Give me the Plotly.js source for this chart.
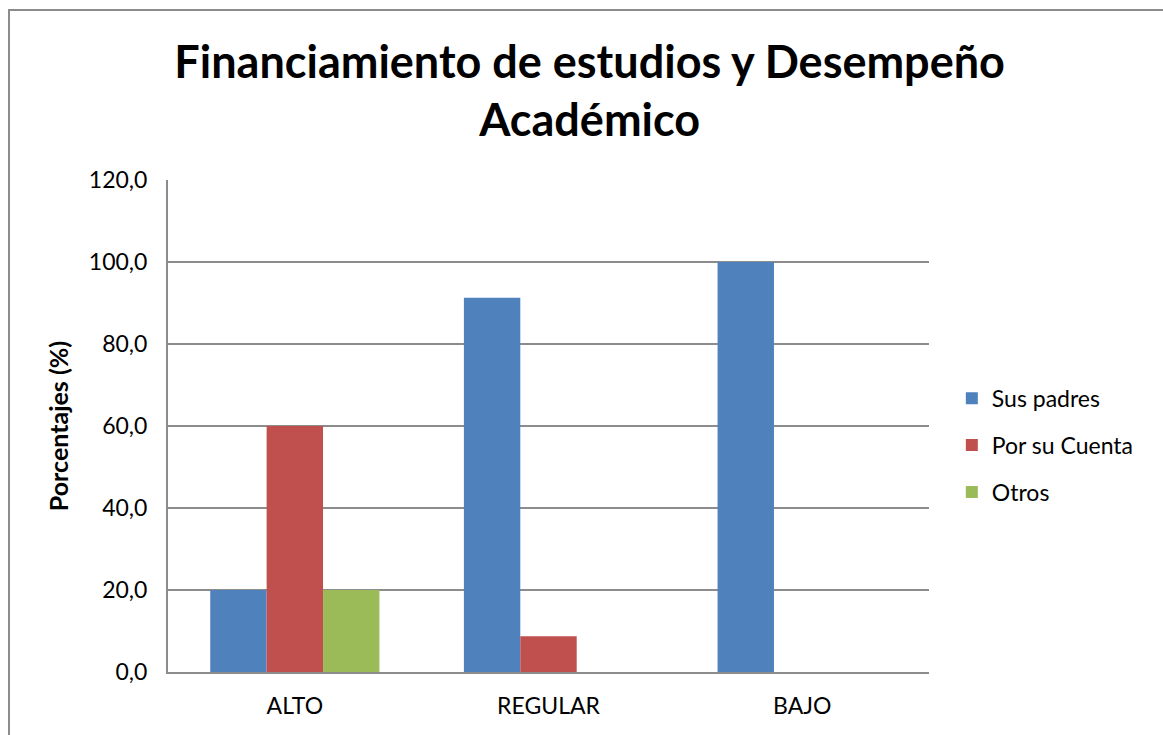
<!DOCTYPE html>
<html>
<head>
<meta charset="utf-8">
<script src="https://cdn.plot.ly/plotly-3.0.1.min.js"></script>
<style>
  body { margin: 0; background: #fff; }
  #frame { position: absolute; left: 8px; top: 9px; width: 1200px; height: 800px;
           border-left: 2px solid #8c8c8c; border-top: 2px solid #8c8c8c; }
  #chart { position: absolute; left: 0; top: 0; width: 1163px; height: 735px; }
</style>
</head>
<body>
<div id="frame"></div>
<div id="chart"></div>
<script>
// categories and series
var niveles = ["ALTO", "REGULAR", "BAJO"];
var susPadres = [20.0, 91.3, 100.0];
var porSuCuenta = [60.0, 8.7, 0.0];
var otros = [20.0, 0.0, 0.0];

var font = "Lato, 'Open Sans', sans-serif";

var trace1 = {
    x: niveles, y: susPadres, name: "Sus padres", type: "bar",
    marker: { color: "#4F81BD" }, legendgroup: "a"
};
var trace2 = {
    x: niveles, y: porSuCuenta, name: "Por su Cuenta", type: "bar",
    marker: { color: "#C0504D" }, legendgroup: "b"
};
var trace3 = {
    x: niveles, y: otros, name: "Otros", type: "bar",
    marker: { color: "#9BBB59" }, legendgroup: "c"
};

var layout = {
    width: 1163,
    height: 735,
    paper_bgcolor: "rgba(0,0,0,0)",
    plot_bgcolor: "rgba(0,0,0,0)",
    margin: { l: 168, r: 234, t: 180, b: 63 },
    separators: ", ",
    font: { family: font, color: "#000" },
    title: {
        text: "<b>Financiamiento de estudios y Desempeño<br>Académico</b>",
        font: { family: font, size: 45, color: "#000" },
        x: 0.507, xanchor: "center",
        y: 0.894, yanchor: "middle"
    },
    barmode: "group",
    bargap: 0.333,
    bargroupgap: 0,
    xaxis: {
        tickfont: { size: 23 },
        showline: true, linecolor: "#8c8c8c", linewidth: 2,
        ticks: "", ticklabelstandoff: 12
    },
    yaxis: {
        title: { text: "<b>Porcentajes (%)</b>", font: { size: 25 }, standoff: 13 },
        range: [0, 120], dtick: 20, tickformat: ".1f",
        tickfont: { size: 23 },
        showgrid: true, gridcolor: "#8c8c8c", gridwidth: 2,
        showline: true, linecolor: "#8c8c8c", linewidth: 2,
        zeroline: false, ticks: "", ticklabelstandoff: 14
    },
    showlegend: true,
    legend: {
        x: 1.03, xanchor: "left", y: 0.461, yanchor: "middle",
        font: { size: 23 },
        traceorder: "grouped", tracegroupgap: 14,
        itemwidth: 30
    }
};

Plotly.newPlot("chart", [trace1, trace2, trace3], layout, { displayModeBar: false, staticPlot: true });
</script>
</body>
</html>
